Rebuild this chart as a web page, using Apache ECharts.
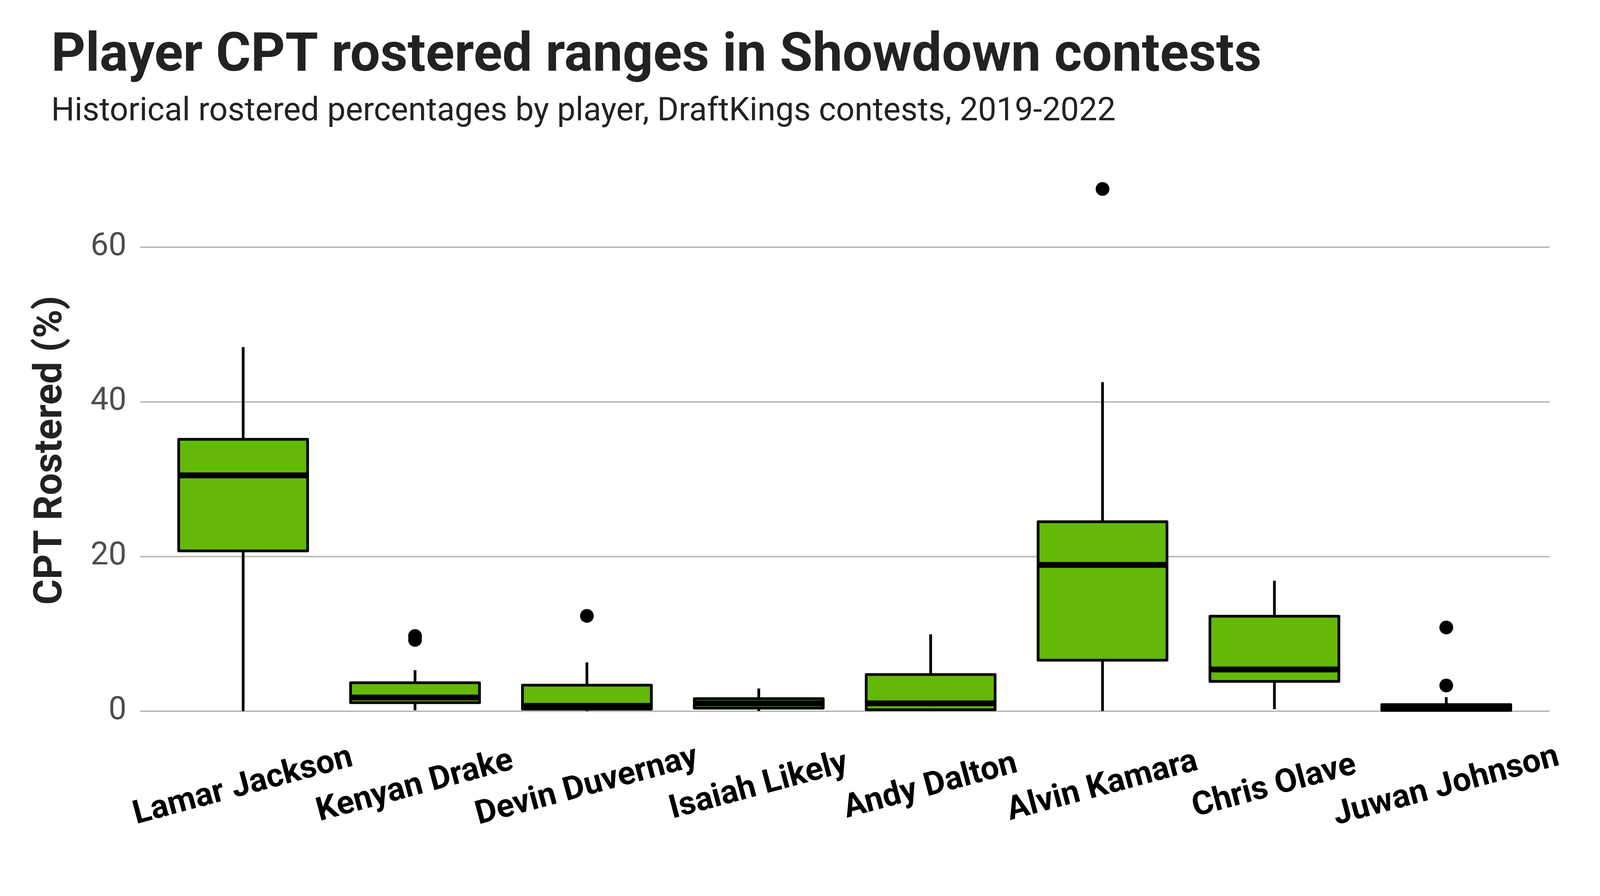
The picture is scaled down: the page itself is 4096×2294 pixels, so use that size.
<!DOCTYPE html>
<html>
<head>
<meta charset="utf-8">
<script src="https://cdn.jsdelivr.net/npm/echarts@6/dist/echarts.min.js"></script>
<style>
html,body{margin:0;padding:0;background:#fff;}
#chart{width:4096px;height:2294px;}
</style>
</head>
<body>
<div id="chart"></div>
<script>
// ---- data ----
const players = ['Lamar Jackson','Kenyan Drake','Devin Duvernay','Isaiah Likely','Andy Dalton','Alvin Kamara','Chris Olave','Juwan Johnson'];
const mins    = [0,     0.1,  0,    0,    0,    0,     0.24,  0];
const q1s     = [20.7,  1.08, 0.25, 0.38, 0.17, 6.57,  3.83,  0.08];
const medians = [30.47, 1.75, 0.67, 1.0,  0.99, 18.89, 5.38,  0.45];
const q3s     = [35.13, 3.66, 3.34, 1.6,  4.72, 24.48, 12.26, 0.83];
const maxs    = [47.06, 5.29, 6.29, 2.91, 9.92, 42.53, 16.85, 1.8];
const outlierPlayers = ['Kenyan Drake','Kenyan Drake','Devin Duvernay','Alvin Kamara','Juwan Johnson','Juwan Johnson'];
const outlierValues  = [9.7, 9.2, 12.3, 67.5, 10.8, 3.3];
const yTicks = [0, 20, 40, 60];

const TITLE = 'Player CPT rostered ranges in Showdown contests';
const SUBTITLE = 'Historical rostered percentages by player, DraftKings contests, 2019-2022';
const Y_NAME = 'CPT Rostered (%)';

// ---- layout (reference px * S) ----
const S = 0.91;
const W = 4500, H = 2520;
const FONT = 'Roboto';
const BOX_FILL = '#64B907';
const LW = 7;        // box / whisker line width
const MED_LW = 15;   // median line width

const boxData = players.map((p, i) => [i, mins[i], q1s[i], medians[i], q3s[i], maxs[i]]);
const outlierData = outlierPlayers.map((p, i) => [p, outlierValues[i]]);

const gridTop = 694.8 * S;
const gridBottom = (H - 1999.6) * S;

const chart = echarts.init(document.getElementById('chart'), null, {renderer: 'canvas'});
chart.setOption({
  animation: false,
  backgroundColor: '#ffffff',
  textStyle: {fontFamily: FONT},
  title: [
    {text: TITLE, left: 126, top: 74,
     textStyle: {fontFamily: FONT, fontWeight: 'bold', fontSize: 136.5, color: '#222222', lineHeight: 136.5}},
    {text: SUBTITLE, left: 126, top: 240.7,
     textStyle: {fontFamily: FONT, fontWeight: 'normal', fontSize: 83.7, color: '#222222', lineHeight: 83.7}}
  ],
  graphic: [
    {type: 'text', x: 132, y: 1267 * S, rotation: Math.PI / 2,
     style: {text: Y_NAME, fontFamily: FONT, fontWeight: 'bold', fontSize: 100, fill: '#222222',
             align: 'center', verticalAlign: 'middle'}}
  ],
  grid: [
    // grid 0: category grid for the boxes (band layout matching ggplot discrete expansion)
    {left: 442.3 * S, right: (W - 4309.3) * S, top: gridTop, bottom: gridBottom, outerBoundsMode: 'none', containLabel: false},
    // grid 1: background grid carrying the y axis, labels and gridlines
    {left: 394 * S, right: (W - 4358) * S, top: gridTop, bottom: gridBottom, outerBoundsMode: 'none', containLabel: false}
  ],
  xAxis: [
    {type: 'category', gridIndex: 0, data: players,
     axisLine: {show: false}, axisTick: {show: false}, splitLine: {show: false},
     axisLabel: {interval: 0, rotate: 15, align: 'center', verticalAlign: 'middle', margin: 194,
       fontFamily: FONT, fontWeight: 'bold', fontSize: 84, color: '#000000'}},
    {type: 'value', gridIndex: 1, min: 0, max: 1, show: false}
  ],
  yAxis: [
    {type: 'value', gridIndex: 0, min: 0, max: 60, interval: 20, show: false},
    {type: 'value', gridIndex: 1, min: yTicks[0], max: yTicks[yTicks.length - 1], interval: 20,
     axisLine: {show: false}, axisTick: {show: false},
     splitLine: {show: true, lineStyle: {color: '#B3B3B3', width: 3.5}},
     axisLabel: {margin: 34.6, fontFamily: FONT, fontSize: 82, color: '#4D4D4D'}}
  ],
  series: [
    {
      type: 'custom',
      xAxisIndex: 0, yAxisIndex: 0,
      data: boxData,
      encode: {x: 0, y: [1, 2, 3, 4, 5]},
      z: 3,
      renderItem: function (params, api) {
        const idx = api.value(0);
        const pMin = api.coord([idx, api.value(1)]);
        const pQ1 = api.coord([idx, api.value(2)]);
        const pMed = api.coord([idx, api.value(3)]);
        const pQ3 = api.coord([idx, api.value(4)]);
        const pMax = api.coord([idx, api.value(5)]);
        const band = api.size([1, 0])[0];
        const hw = band * 0.75 / 2;
        const cx = pMed[0];
        const lineStyle = {stroke: '#000000', lineWidth: LW, fill: null};
        return {
          type: 'group',
          children: [
            {type: 'line', shape: {x1: cx, y1: pMax[1], x2: cx, y2: pQ3[1]}, style: lineStyle},
            {type: 'line', shape: {x1: cx, y1: pQ1[1], x2: cx, y2: pMin[1]}, style: lineStyle},
            {type: 'rect', shape: {x: cx - hw, y: pQ3[1], width: 2 * hw, height: pQ1[1] - pQ3[1]},
             style: {fill: BOX_FILL, stroke: '#000000', lineWidth: LW, lineJoin: 'round'}},
            {type: 'line', shape: {x1: cx - hw, y1: pMed[1], x2: cx + hw, y2: pMed[1]},
             style: {stroke: '#000000', lineWidth: MED_LW, lineCap: 'butt'}}
          ]
        };
      }
    },
    {
      type: 'scatter',
      xAxisIndex: 0, yAxisIndex: 0,
      data: outlierData,
      symbol: 'circle',
      symbolSize: 35.2,
      clip: false,
      z: 4,
      itemStyle: {color: '#000000', borderWidth: 0, opacity: 1}
    }
  ]
});
</script>
</body>
</html>
